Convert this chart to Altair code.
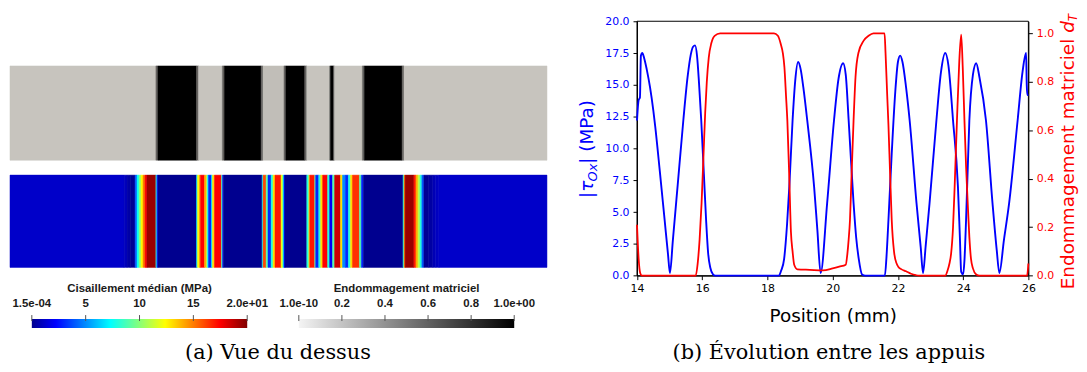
import altair as alt
import pandas as pd

W, H = 1079, 364  # drawing area (page minus the 8px margin)

# ---------------- (a) Vue du dessus : maps along the beam (mm) ----------------
damage_map_edges = [0.0, 10.87, 11.02, 13.90, 14.05, 15.82, 15.97, 18.71, 18.85, 20.41, 20.55,
                    21.96, 22.11, 23.81, 23.88, 24.10, 24.18, 26.25, 26.40, 29.21, 29.35, 40.0]
damage_map_values = [0, 0.5, 1, 0.5, 0, 0.5, 1, 0.5, 0.03, 0.5, 1, 0.5, 0, 0.5, 1, 0.5, 0, 0.5, 1, 0.5, 0]

shear_map_edges = [0.0, 8.50, 8.72, 8.95, 9.32, 9.46, 9.61, 9.76, 9.91, 10.06, 10.20, 10.87, 10.94, 11.02,
                   13.90, 13.97, 14.12, 14.20, 14.49, 14.64, 14.71, 14.79, 15.01, 15.08, 15.23, 15.75,
                   15.82, 15.90, 18.78, 18.85, 19.08, 19.22, 19.45, 19.59, 19.74, 20.19, 20.33, 20.41,
                   20.48, 22.11, 22.26, 22.33, 22.70, 22.77, 23.00, 23.14, 23.29, 23.66, 23.81, 24.03,
                   24.18, 24.62, 24.77, 24.99, 25.21, 25.36, 25.51, 26.03, 26.17, 26.32, 29.28, 29.35,
                   29.43, 30.09, 30.24, 30.39, 30.54, 30.68, 30.83, 31.20, 31.50, 31.72, 31.95, 40.0]
shear_map_values = [1.15, 0.9, 0.5, 0.1, 4, 7.5, 10, 12.5, 15, 17.5, 19.5, 8, 3, 0,
                    7, 12.5, 15, 17.5, 14, 11, 7, 3, 7, 13, 17.5, 9, 3, 0,
                    7, 16, 9, 3, 8, 13, 17, 12, 7, 2, 0,
                    8, 13, 17, 9, 3, 8, 13, 17.5, 8, 2, 9, 18.5, 13, 5, 3, 8, 13, 16.5, 9, 3, 0,
                    8, 15, 19.5, 17, 14, 11, 8, 4, 0.1, 0.4, 0.75, 1.0, 1.15]

shear_bar_ticks = [0.00015, 5, 10, 15, 20]
shear_bar_labels = ["1.5e-04", "5", "10", "15", "2.0e+01"]
damage_bar_ticks = [1e-10, 0.2, 0.4, 0.6, 0.8, 1.0]
damage_bar_labels = ["1.0e-10", "0.2", "0.4", "0.6", "0.8", "1.0e+00"]

# ---------------- (b) Évolution entre les appuis ----------------
tau_pos = [14.00, 14.05, 14.09, 14.12, 14.16, 14.22, 14.30, 14.40, 14.50, 14.56, 14.70, 14.85, 14.95, 15.01,
           15.10, 15.25, 15.42, 15.55, 15.65, 15.72, 15.78, 15.84, 15.90, 15.97, 16.05, 16.12, 16.18, 16.25, 16.33, 16.40,
           18.35, 18.42, 18.51, 18.60, 18.67, 18.77, 18.85, 18.94, 19.02, 19.10, 19.22, 19.43, 19.53, 19.63,
           19.83, 20.04, 20.18, 20.32, 20.40, 20.49, 20.64, 20.72, 20.80, 20.90, 21.00,
           21.60, 21.65, 21.71, 21.81, 21.92, 22.00, 22.07, 22.14, 22.25, 22.36, 22.57, 22.70, 22.77,
           22.85, 22.97, 23.18, 23.32, 23.45, 23.55, 23.69, 23.84, 23.90, 23.94, 24.00, 24.04, 24.09, 24.19,
           24.30, 24.40, 24.50, 24.70, 24.90, 25.03, 25.11,
           25.25, 25.41, 25.67, 25.82, 25.93, 25.95, 25.97, 26.00]
tau_val = [12.2, 13.8, 14.0, 17.3, 17.5, 17.1, 16.2, 14.8, 13.0, 11.7, 8.2, 4.3, 1.7, 0.2,
           2.8, 7.2, 12.2, 15.6, 17.4, 18.0, 18.1, 17.3, 15.2, 12.2, 8.0, 4.3, 1.8, 0.6, 0.1, 0.0,
           0.0, 0.4, 1.3, 4.0, 7.0, 12.2, 15.3, 16.8, 16.2, 14.8, 12.2, 7.0, 3.6, 0.2,
           5.7, 12.2, 15.5, 16.7, 15.8, 12.2, 5.7, 3.0, 1.3, 0.1, 0.0,
           0.0, 1.5, 4.4, 9.6, 14.5, 16.8, 17.3, 16.8, 14.8, 12.2, 5.7, 2.2, 0.2,
           2.3, 5.7, 12.2, 16.0, 17.5, 16.5, 12.2, 7.0, 3.0, 0.3, 0.1, 1.2, 4.4, 12.2,
           15.8, 16.7, 15.6, 12.2, 5.7, 2.0, 0.2,
           2.8, 5.7, 12.2, 16.0, 17.5, 15.0, 14.2, 14.2]

dT_pos = [14.00, 14.05, 14.10, 14.15, 15.80, 15.86, 15.92, 15.98, 16.04, 16.09, 16.14, 16.20, 16.28, 16.38, 16.55,
          18.20, 18.32, 18.41, 18.47, 18.52, 18.57, 18.61, 18.67, 18.72, 18.77, 18.82, 18.92, 19.30, 19.70, 20.00,
          20.20, 20.40,
          20.45, 20.49, 20.53, 20.58, 20.64, 20.70, 20.79, 20.95, 21.10, 21.25, 21.59,
          21.62, 21.67, 21.71, 21.76, 21.81, 21.88, 21.96, 22.01, 22.10, 22.25, 22.40, 22.55, 22.65,
          23.45, 23.52, 23.58, 23.63, 23.69, 23.74, 23.81, 23.88, 23.94, 23.99, 24.04, 24.09, 24.14, 24.19,
          24.24, 24.30, 24.40, 24.50,
          25.96, 26.00]
dT_val = [0.21, 0.07, 0.01, 0.0, 0.0, 0.05, 0.15, 0.30, 0.50, 0.67, 0.80, 0.90, 0.96, 0.99, 1.0,
          1.0, 0.99, 0.955, 0.92, 0.86, 0.74, 0.64, 0.40, 0.18, 0.10, 0.045, 0.026, 0.024, 0.022, 0.03,
          0.037, 0.045,
          0.09, 0.15, 0.23, 0.42, 0.64, 0.82, 0.92, 0.97, 0.99, 1.0, 1.0,
          0.92, 0.75, 0.62, 0.42, 0.23, 0.10, 0.05, 0.037, 0.027, 0.018, 0.008, 0.002, 0.0,
          0.0, 0.02, 0.05, 0.09, 0.20, 0.37, 0.64, 0.88, 0.995, 0.85, 0.64, 0.45, 0.30, 0.16,
          0.07, 0.03, 0.005, 0.0,
          0.0, 0.05]

x_ticks = [14, 16, 18, 20, 22, 24, 26]
tau_ticks = [0, 2.5, 5, 7.5, 10, 12.5, 15, 17.5, 20]
dT_ticks = [0, 0.2, 0.4, 0.6, 0.8, 1.0]

assert len(damage_map_edges) == len(damage_map_values) + 1
assert len(shear_map_edges) == len(shear_map_values) + 1
assert len(tau_pos) == len(tau_val) and len(dT_pos) == len(dT_val)

# ---------------- styles ----------------
JET_DOMAIN = [0, 2.22, 7.30, 9.84, 12.38, 17.46, 20]
JET_COLORS = ["#00008f", "#0000ff", "#00ffff", "#80ff80", "#ffff00", "#ff0000", "#800000"]
jet_scale = alt.Scale(domain=JET_DOMAIN, range=JET_COLORS, interpolate="rgb")
gray_scale = alt.Scale(domain=[0, 1], range=["#c7c4be", "#000000"], interpolate="rgb")
jet_gradient = alt.LinearGradient(
    gradient="linear", x1=0, x2=1, y1=0, y2=0,
    stops=[alt.GradientStop(color=c, offset=d / 20) for d, c in zip(JET_DOMAIN, JET_COLORS)])
gray_gradient = alt.LinearGradient(
    gradient="linear", x1=0, x2=1, y1=0, y2=0,
    stops=[alt.GradientStop(color="#f4f4f4", offset=0), alt.GradientStop(color="#000000", offset=1)])


def lin(domain, rng):
    return alt.Scale(domain=domain, range=rng, nice=False, zero=False)


def text(txt, x, y, size, color="black", angle=0, align="center", baseline="middle",
         font="DejaVu Sans", weight="normal", style="normal"):
    return alt.Chart(pd.DataFrame({"t": [txt]})).mark_text(
        x=x, y=y, fontSize=size, color=color, angle=angle, align=align, baseline=baseline,
        font=font, fontWeight=weight, fontStyle=style).encode(text="t:N")


layers = []

# ---- maps ----
img_x = lin([0, 40], [2, 543])
dmg_df = pd.DataFrame({"a": damage_map_edges[:-1], "b": damage_map_edges[1:], "v": damage_map_values})
layers.append(alt.Chart(dmg_df).mark_rect(y=57, y2=152, strokeWidth=0.5).encode(
    x=alt.X("a:Q", scale=img_x, axis=None), x2="b:Q",
    color=alt.Color("v:Q", scale=gray_scale, legend=None),
    stroke=alt.Stroke("v:Q", scale=gray_scale, legend=None)))

shr_df = pd.DataFrame({"a": shear_map_edges[:-1], "b": shear_map_edges[1:], "v": shear_map_values})
layers.append(alt.Chart(shr_df).mark_rect(y=167, y2=260, strokeWidth=0.5).encode(
    x=alt.X("a:Q", scale=img_x, axis=None), x2="b:Q",
    color=alt.Color("v:Q", scale=jet_scale, legend=None),
    stroke=alt.Stroke("v:Q", scale=jet_scale, legend=None)))


# ---- colour bars ----
def colorbar(ticks, labels, rng, gradient, title):
    sc = lin([ticks[0], ticks[-1]], rng)
    bar_df = pd.DataFrame({"a": [ticks[0]], "b": [ticks[-1]]})
    tk_df = pd.DataFrame({"v": ticks, "lab": labels})
    bar = alt.Chart(bar_df).mark_rect(y=312, y2=321, color=gradient).encode(
        x=alt.X("a:Q", scale=sc, axis=None), x2="b:Q")
    tk = alt.Chart(tk_df).mark_rule(y=308, y2=314, color="#555555", strokeWidth=1).encode(
        x=alt.X("v:Q", scale=sc, axis=None))
    lb = alt.Chart(tk_df).mark_text(y=297, fontSize=11.5, font="Liberation Sans", color="#1a1a1a",
                                    fontWeight="bold").encode(
        x=alt.X("v:Q", scale=sc, axis=None), text="lab:N")
    tt = text(title, (rng[0] + rng[1]) / 2, 282, 11.5, color="#1a1a1a", font="Liberation Sans",
              weight="bold")
    return [bar, tk, lb, tt]


layers += colorbar(shear_bar_ticks, shear_bar_labels, [24, 241], jet_gradient, "Cisaillement médian (MPa)")
layers += colorbar(damage_bar_ticks, damage_bar_labels, [293, 510], gray_gradient, "Endommagement matriciel")

# ---- profile plot ----
X0, X1, YB, YT = 633.7, 1028.0, 268.3, 12.0
px = lin([14, 26], [X0, X1])
py_tau = lin([0, 20], [YB, YT])
py_dT = lin([0, 1.05], [YB, YT])

frame_df = pd.DataFrame({"a": [14], "b": [26], "c": [0], "d": [20]})
layers.append(alt.Chart(frame_df).mark_rect(fillOpacity=0, stroke="black", strokeWidth=1).encode(
    x=alt.X("a:Q", scale=px, axis=None), x2="b:Q",
    y=alt.Y("c:Q", scale=py_tau, axis=None), y2="d:Q"))

tau_df = pd.DataFrame({"x": tau_pos, "v": tau_val})
layers.append(alt.Chart(tau_df).mark_line(color="#0000ff", strokeWidth=1.9, interpolate="monotone").encode(
    x=alt.X("x:Q", scale=px, axis=alt.Axis(
        orient="bottom", offset=YB - H, values=x_ticks, format="d", grid=False,
        tickSize=4, tickColor="black", domainColor="black", labelFlush=False, labelOverlap=False,
        labelFont="DejaVu Sans", labelFontSize=11, labelColor="black", labelPadding=3,
        title="Position (mm)", titleFont="DejaVu Sans", titleFontSize=18.5, titleFontWeight="normal",
        titleColor="black", titleY=40, titleBaseline="middle")),
    y=alt.Y("v:Q", scale=py_tau, axis=alt.Axis(
        orient="left", offset=-X0, values=tau_ticks, format=".1f", grid=False,
        tickSize=4, tickColor="black", domainColor="black", labelOverlap=False,
        labelFont="DejaVu Sans", labelFontSize=11, labelColor="#0000ff", labelPadding=4,
        title=None))))

dT_df = pd.DataFrame({"x": dT_pos, "v": dT_val})
layers.append(alt.Chart(dT_df).mark_line(color="#ff0000", strokeWidth=1.8, interpolate="monotone").encode(
    x=alt.X("x:Q", scale=px, axis=None),
    y=alt.Y("v:Q", scale=py_dT, axis=alt.Axis(
        orient="right", offset=X1 - W, values=dT_ticks, format=".1f", grid=False,
        tickSize=4, tickColor="black", domainColor="black", labelOverlap=False,
        labelFont="DejaVu Sans", labelFontSize=11, labelColor="#ff0000", labelPadding=4,
        title=None))))

# axis titles with subscripts (rotated, reading upwards)
BL = 589.3
layers += [
    text("|", BL, 190, 18.5, color="#0000ff", angle=270, align="left", baseline="alphabetic"),
    text("τ", BL, 183.8, 18.5, color="#0000ff", angle=270, align="left", baseline="alphabetic",
         style="italic"),
    text("Ox", BL + 4.5, 173.4, 13, color="#0000ff", angle=270, align="left", baseline="alphabetic",
         style="italic"),
    text("| (MPa)", BL, 155.5, 18.5, color="#0000ff", angle=270, align="left", baseline="alphabetic"),
]
BR = 1073.5
layers += [
    text("Endommagement matriciel", BR, 282, 18.5, color="#ff0000", angle=270, align="left",
         baseline="alphabetic"),
    text("d", BR, 23.7, 18.5, color="#ff0000", angle=270, align="left", baseline="alphabetic",
         style="italic"),
    text("T", BR + 3.5, 12.0, 12, color="#ff0000", angle=270, align="left", baseline="alphabetic",
         style="italic"),
]

# ---- sub-captions ----
layers += [
    text("(a) Vue du dessus", 272, 346, 21, font="DejaVu Serif"),
    text("(b) Évolution entre les appuis", 827, 346, 21, font="DejaVu Serif"),
]

chart = alt.layer(*layers).resolve_scale(
    x="independent", y="independent", color="independent", stroke="independent"
).properties(
    width=W, height=H, autosize=alt.AutoSizeParams(type="none"), padding=0,
).configure_view(stroke=None)

chart.save("out.html", embed_options={"renderer": "svg", "actions": False})
